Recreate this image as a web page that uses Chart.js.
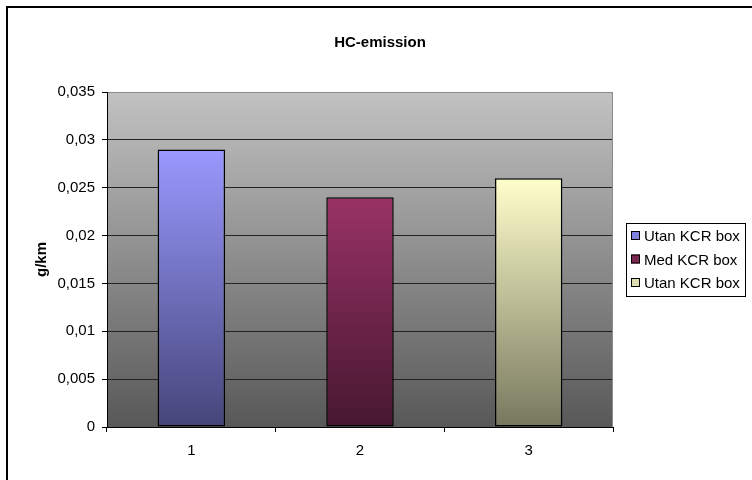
<!DOCTYPE html>
<html>
<head>
<meta charset="utf-8">
<script src="https://cdn.jsdelivr.net/npm/chart.js@4"></script>
<style>
  html, body { margin: 0; padding: 0; background: #fff; }
  #wrap { width: 752px; height: 480px; position: relative; }
</style>
</head>
<body>
<div id="wrap"><canvas id="hcChart" width="752" height="480"></canvas></div>
<script>
const chartTitle = "HC-emission";
const axisTitle = "g/km";
const categories = ["1", "2", "3"];
const emissions = [0.029, 0.024, 0.026];
const legendLabels = ["Utan KCR box", "Med KCR box", "Utan KCR box"];
const barTop = ["#9999ff", "#993366", "#ffffcc"];
const barBottom = ["#45457a", "#461730", "#77775e"];
const legendSwatch = ["#8080dd", "#7a2850", "#dcdcb0"];
const yMax = 0.035;
const yStep = 0.005;

const FONT = "'Liberation Sans', Arial, sans-serif";

function fmt(v) {
  return parseFloat(v.toFixed(3)).toString().replace(".", ",");
}

// plot background, frame, title, legend
const decor = {
  id: "decor",
  beforeDraw(chart) {
    const { ctx, chartArea: a } = chart;
    ctx.save();
    const g = ctx.createLinearGradient(0, a.top, 0, a.bottom);
    g.addColorStop(0, "#c2c2c2");
    g.addColorStop(1, "#585858");
    ctx.fillStyle = g;
    ctx.fillRect(a.left, a.top, a.right - a.left, a.bottom - a.top);
    ctx.restore();
  },
  afterDraw(chart) {
    const { ctx, chartArea: a } = chart;
    ctx.save();
    // outer frame (only left and top visible)
    ctx.strokeStyle = "#000";
    ctx.lineWidth = 2;
    ctx.beginPath();
    ctx.moveTo(7, 480);
    ctx.lineTo(7, 7);
    ctx.lineTo(752, 7);
    ctx.stroke();

    // right plot border
    ctx.strokeStyle = "#8a8a8a";
    ctx.lineWidth = 1;
    ctx.beginPath();
    ctx.moveTo(a.right - 0.5, a.top);
    ctx.lineTo(a.right - 0.5, a.bottom);
    ctx.stroke();

    // title
    ctx.fillStyle = "#000";
    ctx.font = "bold 15px " + FONT;
    ctx.textAlign = "center";
    ctx.textBaseline = "middle";
    ctx.fillText(chartTitle, 380, 43);

    // legend
    const lx = 626, ly = 223, lw = 119, lh = 73;
    ctx.fillStyle = "#fff";
    ctx.fillRect(lx, ly, lw, lh);
    ctx.strokeStyle = "#000";
    ctx.lineWidth = 1;
    ctx.strokeRect(lx + 0.5, ly + 0.5, lw, lh);
    ctx.font = "15px " + FONT;
    ctx.textAlign = "left";
    legendLabels.forEach((lab, i) => {
      const cy = ly + 13 + i * 23.5;
      ctx.fillStyle = legendSwatch[i];
      ctx.fillRect(lx + 5, cy - 5, 9, 9);
      ctx.strokeStyle = "#000";
      ctx.strokeRect(lx + 5.5, cy - 4.5, 8, 8);
      ctx.fillStyle = "#000";
      ctx.fillText(lab, lx + 18, cy + 1);
    });
    ctx.restore();
  }
};

new Chart(document.getElementById("hcChart"), {
  type: "bar",
  data: {
    labels: categories,
    datasets: [{
      label: chartTitle,
      data: emissions,
      backgroundColor(c) {
        const chart = c.chart;
        if (!chart.chartArea || c.dataIndex === undefined) return barTop[c.dataIndex || 0];
        const y = chart.scales.y;
        const top = y.getPixelForValue(emissions[c.dataIndex]);
        const bottom = y.getPixelForValue(0);
        const g = chart.ctx.createLinearGradient(0, top, 0, bottom);
        g.addColorStop(0, barTop[c.dataIndex]);
        g.addColorStop(1, barBottom[c.dataIndex]);
        return g;
      },
      borderColor: "#000",
      borderWidth: 1.5,
      borderSkipped: false,
      categoryPercentage: 1,
      barPercentage: 0.4
    }]
  },
  options: {
    responsive: false,
    animation: false,
    devicePixelRatio: 1,
    layout: { padding: { left: 7, top: 92, right: 139, bottom: 13 } },
    plugins: {
      legend: { display: false },
      tooltip: { enabled: false }
    },
    scales: {
      x: {
        offset: true,
        grid: {
          offset: true,
          drawOnChartArea: false,
          drawTicks: true,
          tickLength: 5,
          color: "#000"
        },
        border: { color: "#000", width: 1 },
        ticks: { color: "#000", font: { family: FONT, size: 15 }, padding: 10 },
        afterFit(s) { s.height = 40; }
      },
      y: {
        min: 0,
        max: yMax,
        ticks: {
          stepSize: yStep,
          color: "#000",
          font: { family: FONT, size: 15 },
          padding: 7,
          callback: (v) => fmt(v)
        },
        grid: {
          color: (c) => (c.tick && Math.abs(c.tick.value - yMax) < 1e-9 ? "#8a8a8a" : "#222"),
          lineWidth: 1,
          tickLength: 5,
          tickColor: "#000"
        },
        border: { color: "#000", width: 1 },
        title: {
          display: true,
          text: axisTitle,
          color: "#000",
          font: { family: FONT, size: 15, weight: "bold" },
          padding: { top: 26, bottom: 0 }
        },
        afterFit(s) { s.width = 100; }
      }
    }
  },
  plugins: [decor]
});
</script>
</body>
</html>
